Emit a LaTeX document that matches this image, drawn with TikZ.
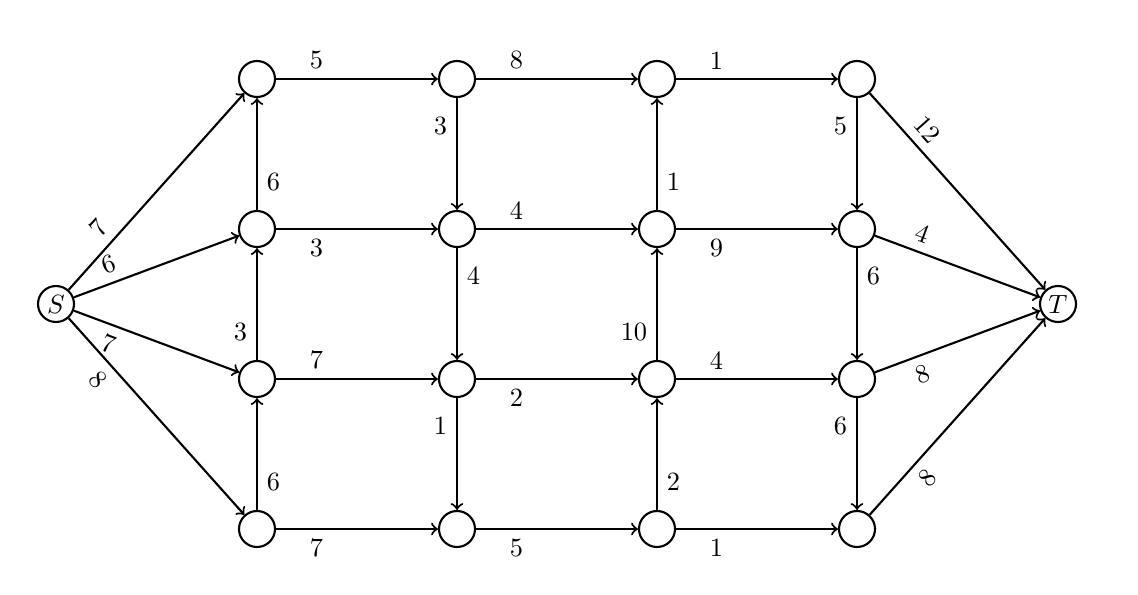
\documentclass[tikz,border=0pt]{standalone}
\usepackage{tikz}

\begin{document}
\begin{tikzpicture}[x=1.333cm, y=1.333cm, thick, main/.style = {draw, circle, minimum size=4.8mm, inner sep=1pt}]
        \useasboundingbox (0,0) rectangle (11.38,5.94);
        \node[main] (s) at (0.56,2.9) {$S$};
        \node[main] (t) at (10.58,2.9) {$T$};
        \node[main] (1) at (2.57,5.15) {};
        \node[main] (2) at (4.57,5.15) {};
        \node[main] (3) at (6.57,5.15) {};
        \node[main] (4) at (8.57,5.15) {};
        \node[main] (5) at (2.57,3.65) {};
        \node[main] (6) at (4.57,3.65) {};
        \node[main] (7) at (6.57,3.65) {};
        \node[main] (8) at (8.57,3.65) {};
        \node[main] (9) at (2.57,2.15) {};
        \node[main] (10) at (4.57,2.15) {};
        \node[main] (11) at (6.57,2.15) {};
        \node[main] (12) at (8.57,2.15) {};
        \node[main] (13) at (2.57,0.65) {};
        \node[main] (14) at (4.57,0.65) {};
        \node[main] (15) at (6.57,0.65) {};
        \node[main] (16) at (8.57,0.65) {};
        % from S
        \draw[->] (s) -- node[near start, sloped, above] {7} (1);
        \draw[->] (s) -- node[near start, sloped, above] {6} (5);
        \draw[->] (s) -- node[near start, sloped, below] {7} (9);
        \draw[->] (s) -- node[near start, sloped, below] {8} (13);
        % rows
        \draw[->] (1) -- node[near start, above] {5} (2);
        \draw[->] (2) -- node[near start, above] {8} (3);
        \draw[->] (3) -- node[near start, above] {1} (4);
        \draw[->] (5) -- node[near start, below] {3} (6);
        \draw[->] (6) -- node[near start, above] {4} (7);
        \draw[->] (7) -- node[near start, below] {9} (8);
        \draw[->] (9) -- node[near start, above] {7} (10);
        \draw[->] (10) -- node[near start, below] {2} (11);
        \draw[->] (11) -- node[near start, above] {4} (12);
        \draw[->] (13) -- node[near start, below] {7} (14);
        \draw[->] (14) -- node[near start, below] {5} (15);
        \draw[->] (15) -- node[near start, below] {1} (16);
        % columns
        \draw[->] (5) -- node[near start, right] {6} (1);
        \draw[->] (2) -- node[near start, left] {3} (6);
        \draw[->] (7) -- node[near start, right] {1} (3);
        \draw[->] (4) -- node[near start, left] {5} (8);
        \draw[->] (9) -- node[near start, left] {3} (5);
        \draw[->] (6) -- node[near start, right] {4} (10);
        \draw[->] (11) -- node[near start, left] {10} (7);
        \draw[->] (8) -- node[near start, right] {6} (12);
        \draw[->] (13) -- node[near start, right] {6} (9);
        \draw[->] (10) -- node[near start, left] {1} (14);
        \draw[->] (15) -- node[near start, right] {2} (11);
        \draw[->] (12) -- node[near start, left] {6} (16);
        % into T
        \draw[->] (4) -- node[near start, sloped, above] {12} (t);
        \draw[->] (8) -- node[near start, sloped, above] {4} (t);
        \draw[->] (12) -- node[near start, sloped, below] {8} (t);
        \draw[->] (16) -- node[near start, sloped, below] {8} (t);
    \end{tikzpicture}
\end{document}
